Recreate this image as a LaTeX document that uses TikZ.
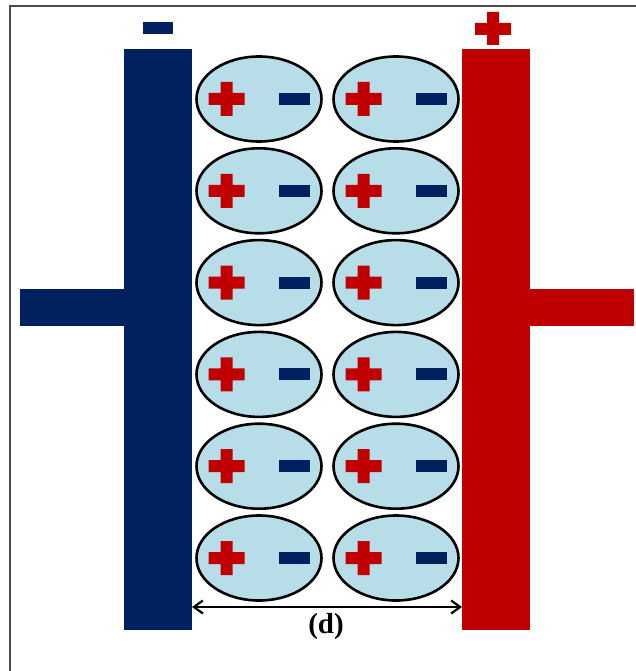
\documentclass[tikz,border=0pt]{standalone}
\usepackage{fontspec}
\setmainfont{Liberation Serif}
\usetikzlibrary{arrows.meta}
\definecolor{navy}{HTML}{002060}
\definecolor{darkred}{HTML}{C00000}
\definecolor{ionblue}{HTML}{B7DDE8}

\begin{document}
\begin{tikzpicture}[x=1pt,y=-1pt,
  dipole/.style={draw=black,line width=2.6pt,fill=ionblue}]
  \useasboundingbox (0,0) rectangle (636,671);
  \draw[line width=1.2pt,black!70] (10,671) -- (10,6) -- (636,6);
  % the two plates and their tabs
  \fill[navy] (124,49) rectangle (192,630);
  \fill[navy] (20,289) rectangle (124,326);
  \fill[darkred] (462,49) rectangle (530,630);
  \fill[darkred] (530,289) rectangle (634,326);
  % terminal signs
  \fill[navy] (143,22) rectangle (173,34);
  \fill[darkred] (475,23) rectangle (511,35) (487,12) rectangle (499,45);
  % polarised molecules in the gap
  \foreach \i in {0,...,5} {
    \foreach \x in {259,396} {
      \pgfmathsetmacro\y{99+91.8*\i}
      \draw[dipole] (\x,\y) ellipse (62.5 and 42.5);
      \fill[darkred] (\x-50.5,\y-6) rectangle (\x-14.5,\y+6)
                     (\x-38.5,\y-17) rectangle (\x-26.5,\y+17);
      \fill[navy] (\x+20,\y-6) rectangle (\x+51,\y+6);
    }
  }
  % plate spacing
  \coordinate (gapl) at (192,607);
  \coordinate (gapr) at (462,607);
  \draw[line width=2.2pt,{Straight Barb[length=9pt,width=13pt]}-{Straight Barb[length=9pt,width=13pt]}] (gapl) -- (gapr);
  \node[font=\bfseries\fontsize{29}{30}\selectfont] (dlabel) at (326,627) {(d)};
\end{tikzpicture}
\end{document}
